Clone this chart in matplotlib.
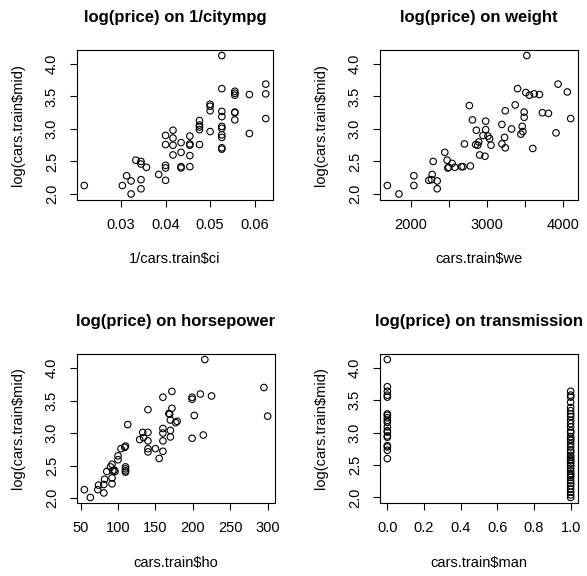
import matplotlib
matplotlib.use("Agg")
import matplotlib.pyplot as plt
import numpy as np

plt.rcParams['font.family'] = ['Liberation Sans', 'DejaVu Sans']

# panel 1: city mpg vs log(mid price)
citympg = [46, 33, 32, 31, 31, 30, 29, 29, 28, 29, 29, 26, 25, 25, 25, 25, 25,
           24, 24, 24, 24, 23, 23, 23, 23, 22, 22, 22, 22, 22, 21, 21, 21, 21, 21,
           20, 20, 20, 20, 19, 19, 19, 19, 19, 19, 19, 19, 19, 19,
           18, 18, 18, 18, 18, 18, 17, 17, 16, 16, 16]
logp_mpg = [2.13, 2.13, 2.28, 2.20, 2.00, 2.52, 2.50, 2.46, 2.41, 2.22, 2.08, 2.30,
            2.44, 2.40, 2.21, 2.90, 2.76, 2.98, 2.86, 2.75, 2.60, 2.79, 2.64, 2.42,
            2.40, 2.89, 2.77, 2.75, 2.59, 2.42, 3.13, 3.06, 3.03, 2.99, 2.76,
            3.38, 3.35, 3.28, 2.96, 4.13, 3.62, 3.27, 3.19, 3.04, 3.01, 2.91, 2.87,
            2.71, 2.69, 3.58, 3.55, 3.52, 3.26, 3.25, 3.14, 3.53, 2.93, 3.69, 3.54, 3.16]

# panel 2: weight
weight = [1689, 1842, 2039, 2039, 2236, 2271, 2280, 2293, 2346, 2346, 2446, 2477,
          2486, 2499, 2543, 2578, 2665, 2687, 2705, 2783, 2770, 2810, 2862, 2853,
          2880, 2893, 2906, 2950, 2976, 2985, 2985, 3015, 3037, 3055, 3199, 3199,
          3234, 3243, 3243, 3326, 3374, 3405, 3449, 3466, 3475, 3492, 3492, 3514,
          3527, 3562, 3606, 3624, 3694, 3733, 3812, 3912, 3939, 4061, 4105]
logp_wt = [2.13, 2.00, 2.28, 2.13, 2.21, 2.22, 2.30, 2.50, 2.20, 2.08, 2.64, 2.52,
           2.40, 2.41, 2.47, 2.41, 2.42, 2.42, 2.77, 2.43, 3.36, 3.14, 2.98, 2.76,
           2.75, 2.80, 2.60, 2.90, 2.58, 3.12, 2.99, 2.89, 2.85, 2.75, 3.07, 2.77,
           2.87, 3.28, 2.71, 3.00, 3.37, 3.62, 2.92, 3.04, 2.96, 3.26, 3.18, 3.56,
           4.13, 3.52, 2.70, 3.54, 3.53, 3.25, 3.24, 2.94, 3.69, 3.57, 3.16]

# panel 3: horsepower
horsepower = [55, 63, 73, 74, 81, 81, 82, 85, 90, 92, 92, 92, 93, 95, 96, 100, 100,
              104, 109, 110, 110, 110, 110, 110, 113, 129, 133, 134, 140, 140, 140,
              140, 140, 150, 155, 160, 160, 160, 160, 160, 168, 169, 170, 170, 170,
              172, 172, 177, 179, 199, 199, 199, 202, 210, 214, 216, 225, 295, 300]
logp_hp = [2.13, 2.01, 2.13, 2.20, 2.21, 2.08, 2.29, 2.41, 2.48, 2.52, 2.31, 2.22,
           2.42, 2.43, 2.41, 2.59, 2.65, 2.76, 2.78, 2.80, 2.48, 2.45, 2.42, 2.40,
           3.13, 2.90, 3.01, 2.93, 3.36, 3.01, 2.88, 2.76, 2.71, 2.76, 2.61, 3.55,
           3.07, 3.00, 2.88, 2.72, 3.30, 3.29, 3.20, 3.04, 2.94, 3.64, 3.38, 3.16,
           3.18, 3.55, 3.52, 2.92, 3.27, 3.60, 2.97, 4.13, 3.57, 3.70, 3.26]

# panel 4: manual transmission (0 / 1)
logp_auto = [4.13, 3.71, 3.64, 3.58, 3.55, 3.29, 3.27, 3.23, 3.19, 3.16, 3.09,
             3.03, 3.01, 2.95, 2.93, 2.80, 2.78, 2.73, 2.60]
logp_man = [3.64, 3.58, 3.55, 3.47, 3.39, 3.34, 3.29, 3.25, 3.19, 3.14, 3.09, 3.03,
            3.00, 2.94, 2.90, 2.88, 2.83, 2.78, 2.73, 2.70, 2.65, 2.62, 2.59, 2.57,
            2.53, 2.49, 2.45, 2.41, 2.37, 2.34, 2.31, 2.26, 2.22, 2.18, 2.13, 2.08,
            2.04, 2.00]
manual = [0] * len(logp_auto) + [1] * len(logp_man)
logp_tr = logp_auto + logp_man

W, H = 587, 576
fig = plt.figure(figsize=(W / 100, H / 100), dpi=100)

def box(l, t, r, b):
    return [l / W, 1 - b / H, (r - l) / W, (b - t) / H]

panels = [
    (box(77, 50, 273, 199.5), 1 / np.array(citympg), logp_mpg,
     'log(price) on 1/citympg', '1/cars.train$ci',
     [0.03, 0.04, 0.05, 0.06], ['0.03', '0.04', '0.05', '0.06']),
    (box(380, 50, 578, 199.5), weight, logp_wt,
     'log(price) on weight', 'cars.train$we',
     [2000, 2500, 3000, 3500, 4000], ['2000', '', '3000', '', '4000']),
    (box(77, 354, 275, 503), horsepower, logp_hp,
     'log(price) on horsepower', 'cars.train$ho',
     [50, 100, 150, 200, 250, 300], ['50', '100', '150', '200', '250', '300']),
    (box(380, 354, 578, 503), manual, logp_tr,
     'log(price) on transmission', 'cars.train$man',
     [0, 0.2, 0.4, 0.6, 0.8, 1.0], ['0.0', '0.2', '0.4', '0.6', '0.8', '1.0']),
]

for pos, x, y, title, xlab, xt, xtl in panels:
    ax = fig.add_axes(pos)
    ax.scatter(x, y, s=22, facecolors='none', edgecolors='black', linewidths=0.8)
    ax.margins(0.04)
    ax.set_xticks(xt)
    ax.set_xticklabels(xtl)
    ax.set_yticks([2.0, 2.5, 3.0, 3.5, 4.0])
    ax.set_yticklabels(['2.0', '2.5', '3.0', '3.5', '4.0'], rotation=90, va='center')
    ax.tick_params(direction='out', length=5, width=0.8, labelsize=10.5, pad=8)
    for sp in ax.spines.values():
        sp.set_linewidth(0.8)
    ax.set_title(title, fontsize=12, fontweight='bold', pad=20)
    ax.set_xlabel(xlab, fontsize=10.5, va='center')
    ax.xaxis.set_label_coords(0.5, -0.40)
    ax.set_ylabel('log(cars.train$mid)', fontsize=10.5, va='center')
    ax.yaxis.set_label_coords(-0.30, 0.5)

fig.savefig('out.png', dpi=100)
